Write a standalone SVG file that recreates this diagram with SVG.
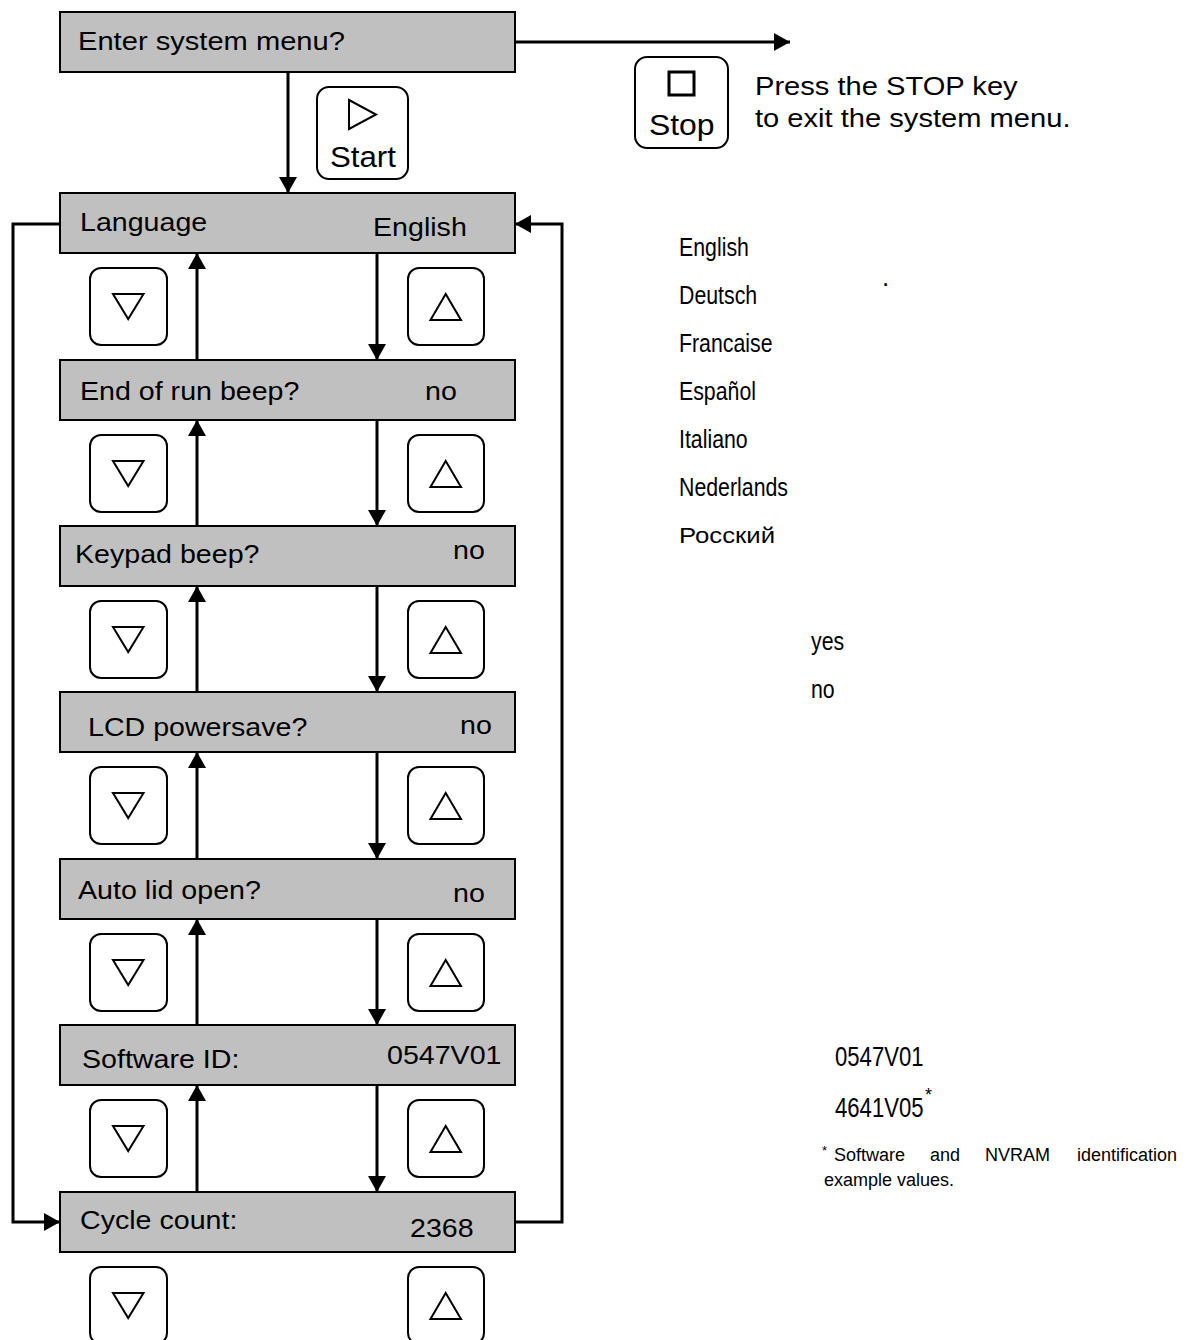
<svg xmlns="http://www.w3.org/2000/svg" width="1190" height="1340" viewBox="0 0 1190 1340">
<style>
.box{fill:#c0c0c0;stroke:#000;stroke-width:2}
.key{fill:#fff;stroke:#000;stroke-width:2}
.tri{fill:none;stroke:#000;stroke-width:2}
.con{fill:none;stroke:#000;stroke-width:3}
.lbl{font-family:"Liberation Sans",Arial,sans-serif;font-size:26px;fill:#000}
.cnd{font-family:"Liberation Sans",Arial,sans-serif;font-size:26px;fill:#000}
.ru{font-family:"Liberation Sans",Arial,sans-serif;font-size:23px;fill:#000}
.note{font-family:"Liberation Sans",Arial,sans-serif;font-size:18px;fill:#000}
</style>
<defs>
<marker id="ah" viewBox="0 0 16 18" refX="16" refY="9" markerWidth="16" markerHeight="18" markerUnits="userSpaceOnUse" orient="auto">
<path d="M0,0 L16,9 L0,18 Z" fill="#000"/>
</marker>
<g id="kdown"><rect class="key" x="90" y="0" width="77" height="77" rx="11"/><polygon class="tri" points="113,26 143.5,26 128.2,51"/></g>
<g id="kup"><rect class="key" x="408" y="0" width="76" height="77" rx="11"/><polygon class="tri" points="430.5,52 461,52 445.7,26"/></g>
</defs>
<rect width="1190" height="1340" fill="#fff"/>

<g id="connectors">
<line class="con" x1="515" y1="42" x2="790" y2="42" marker-end="url(#ah)"/>
<line class="con" x1="288" y1="72" x2="288" y2="193" marker-end="url(#ah)"/>
<path class="con" d="M60,224 H13 V1222 H60" marker-end="url(#ah)"/>
<path class="con" d="M515,1222 H562 V224 H515" marker-end="url(#ah)"/>
<line class="con" x1="197" y1="360" x2="197" y2="253" marker-end="url(#ah)"/>
<line class="con" x1="377" y1="253" x2="377" y2="360" marker-end="url(#ah)"/>
<line class="con" x1="197" y1="526" x2="197" y2="420" marker-end="url(#ah)"/>
<line class="con" x1="377" y1="420" x2="377" y2="526" marker-end="url(#ah)"/>
<line class="con" x1="197" y1="692" x2="197" y2="586" marker-end="url(#ah)"/>
<line class="con" x1="377" y1="586" x2="377" y2="692" marker-end="url(#ah)"/>
<line class="con" x1="197" y1="859" x2="197" y2="752" marker-end="url(#ah)"/>
<line class="con" x1="377" y1="752" x2="377" y2="859" marker-end="url(#ah)"/>
<line class="con" x1="197" y1="1025" x2="197" y2="919" marker-end="url(#ah)"/>
<line class="con" x1="377" y1="919" x2="377" y2="1025" marker-end="url(#ah)"/>
<line class="con" x1="197" y1="1192" x2="197" y2="1085" marker-end="url(#ah)"/>
<line class="con" x1="377" y1="1085" x2="377" y2="1192" marker-end="url(#ah)"/>
</g>

<g id="enter">
<rect class="box" x="60" y="12" width="455" height="60"/>
<text class="lbl" transform="translate(78,50) scale(1.12,1)">Enter system menu?</text>
</g>

<g id="start-key">
<rect class="key" x="317" y="87" width="91" height="92" rx="12"/>
<polygon class="tri" points="349,100 376,114.5 349,129"/>
<text class="lbl" transform="translate(330,167) scale(1.04,1)" style="font-size:30px">Start</text>
</g>

<g id="stop-key">
<rect class="key" x="635" y="57" width="93" height="91" rx="12"/>
<rect x="669" y="72" width="25" height="23" fill="none" stroke="#000" stroke-width="3"/>
<text class="lbl" transform="translate(649,135) scale(1.1,1)" style="font-size:29px">Stop</text>
</g>

<g id="stop-note">
<text class="lbl" transform="translate(755,95) scale(1.12,1)">Press the STOP key</text>
<text class="lbl" transform="translate(755,127) scale(1.12,1)">to exit the system menu.</text>
</g>

<g id="language">
<rect class="box" x="60" y="193" width="455" height="60"/>
<text class="lbl" transform="translate(80,231) scale(1.1,1)">Language</text>
<text class="lbl" transform="translate(373,236) scale(1.1,1)">English</text>
</g>
<g id="keys-1"><use href="#kdown" y="268"/><use href="#kup" y="268"/></g>

<g id="end-of-run">
<rect class="box" x="60" y="360" width="455" height="60"/>
<text class="lbl" transform="translate(80,400) scale(1.1,1)">End of run beep?</text>
<text class="lbl" transform="translate(425,400) scale(1.1,1)">no</text>
</g>
<g id="keys-2"><use href="#kdown" y="435"/><use href="#kup" y="435"/></g>

<g id="keypad">
<rect class="box" x="60" y="526" width="455" height="60"/>
<text class="lbl" transform="translate(75,563) scale(1.1,1)">Keypad beep?</text>
<text class="lbl" transform="translate(453,559) scale(1.1,1)">no</text>
</g>
<g id="keys-3"><use href="#kdown" y="601"/><use href="#kup" y="601"/></g>

<g id="lcd">
<rect class="box" x="60" y="692" width="455" height="60"/>
<text class="lbl" transform="translate(88,736) scale(1.1,1)">LCD powersave?</text>
<text class="lbl" transform="translate(460,734) scale(1.1,1)">no</text>
</g>
<g id="keys-4"><use href="#kdown" y="767"/><use href="#kup" y="767"/></g>

<g id="autolid">
<rect class="box" x="60" y="859" width="455" height="60"/>
<text class="lbl" transform="translate(78,899) scale(1.1,1)">Auto lid open?</text>
<text class="lbl" transform="translate(453,902) scale(1.1,1)">no</text>
</g>
<g id="keys-5"><use href="#kdown" y="934"/><use href="#kup" y="934"/></g>

<g id="software">
<rect class="box" x="60" y="1025" width="455" height="60"/>
<text class="lbl" transform="translate(82,1068) scale(1.1,1)">Software ID:</text>
<text class="lbl" transform="translate(387,1064) scale(1.1,1)">0547V01</text>
</g>
<g id="keys-6"><use href="#kdown" y="1100"/><use href="#kup" y="1100"/></g>

<g id="cycle">
<rect class="box" x="60" y="1192" width="455" height="60"/>
<text class="lbl" transform="translate(80,1229) scale(1.1,1)">Cycle count:</text>
<text class="lbl" transform="translate(410,1237) scale(1.1,1)">2368</text>
</g>
<g id="keys-7"><use href="#kdown" y="1267"/><use href="#kup" y="1267"/></g>

<g id="language-list">
<text class="cnd" transform="translate(679,256) scale(0.82,1)">English</text>
<text class="cnd" transform="translate(679,304) scale(0.82,1)">Deutsch</text>
<text class="cnd" transform="translate(679,352) scale(0.82,1)">Francaise</text>
<text class="cnd" transform="translate(679,400) scale(0.82,1)">Español</text>
<text class="cnd" transform="translate(679,448) scale(0.82,1)">Italiano</text>
<text class="cnd" transform="translate(679,496) scale(0.82,1)">Nederlands</text>
<text class="ru" transform="translate(679,543) scale(1.12,1)">Росский</text>
<text class="lbl" x="882" y="286">.</text>
</g>

<g id="yes-no">
<text class="cnd" transform="translate(811,650) scale(0.82,1)">yes</text>
<text class="cnd" transform="translate(811,698) scale(0.82,1)">no</text>
</g>

<g id="ids">
<text class="cnd" transform="translate(835,1066) scale(0.82,1)" style="font-size:27px">0547V01</text>
<text class="cnd" transform="translate(835,1117) scale(0.82,1)" style="font-size:27px">4641V05</text>
<text class="note" x="925" y="1101">*</text>
<text class="note" x="822" y="1155" style="font-size:13px">*</text>
<text class="note" x="834" y="1161">Software</text>
<text class="note" x="930" y="1161">and</text>
<text class="note" x="985" y="1161">NVRAM</text>
<text class="note" x="1077" y="1161">identification</text>
<text class="note" x="824" y="1186">example values.</text>
</g>
</svg>
